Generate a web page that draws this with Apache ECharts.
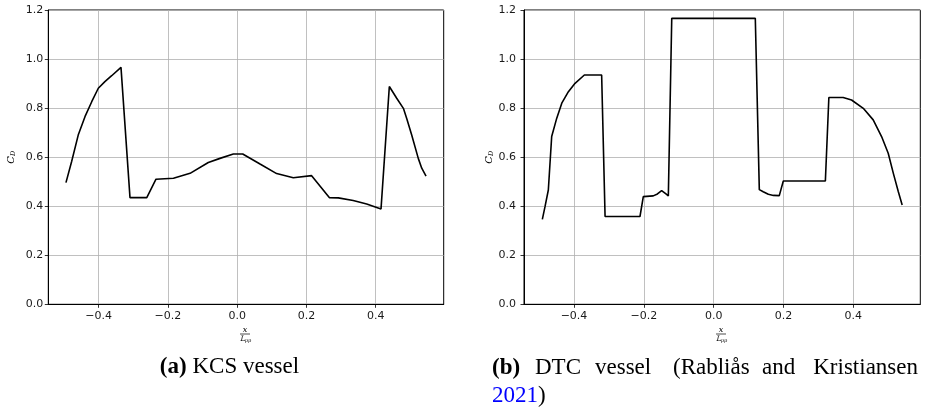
<!DOCTYPE html>
<html>
<head>
<meta charset="utf-8">
<script src="https://cdn.jsdelivr.net/npm/echarts@6/dist/echarts.min.js"></script>
<style>html,body{margin:0;padding:0;background:#fff}#c{width:927px;height:411px}</style>
</head>
<body>
<div id="c"></div>
<script>
// KCS vessel
const xKCS = [-0.4944,-0.478,-0.459,-0.4395,-0.420,-0.401,-0.382,-0.3624,-0.3355,-0.3095,-0.261,-0.2344,-0.184,-0.136,-0.0834,-0.0496,-0.011,0.016,0.066,0.114,0.162,0.215,0.266,0.292,0.335,0.374,0.4154,0.4394,0.4607,0.480,0.4896,0.504,0.523,0.533,0.5454];
const yKCS = [0.496,0.582,0.690,0.765,0.826,0.881,0.908,0.932,0.966,0.435,0.435,0.510,0.514,0.534,0.578,0.595,0.613,0.613,0.572,0.533,0.516,0.5246,0.435,0.434,0.423,0.409,0.389,0.888,0.840,0.799,0.758,0.690,0.595,0.555,0.523];
// DTC vessel
const xDTC = [-0.4907,-0.483,-0.4735,-0.4639,-0.4496,-0.435,-0.416,-0.397,-0.3703,-0.3208,-0.311,-0.211,-0.2015,-0.173,-0.161,-0.149,-0.1366,-0.1298,-0.120,0.1193,0.1308,0.142,0.1566,0.171,0.188,0.1995,0.320,0.330,0.371,0.395,0.4286,0.457,0.481,0.500,0.5147,0.529,0.540];
const yDTC = [0.3466,0.398,0.466,0.684,0.758,0.820,0.867,0.901,0.935,0.935,0.358,0.358,0.439,0.442,0.450,0.4635,0.450,0.442,1.166,1.166,0.4676,0.459,0.4487,0.444,0.443,0.503,0.503,0.843,0.843,0.833,0.799,0.752,0.684,0.616,0.534,0.459,0.405];
const xTicks = [-0.4,-0.2,0.0,0.2,0.4];
const yMin = 0, yMax = 1.2, yStep = 0.2;
const xRangeKCS = [-0.5454, 0.5964];
const xRangeDTC = [-0.5432, 0.5919];

const fmt = v => (v < -1e-9 ? '\u2212' + (-v).toFixed(1) : Math.abs(v).toFixed(1));
const tickFont = {fontFamily:'DejaVu Sans', fontSize:11, color:'#1a1a1a'};

function xAxis(idx, range){
  return {
    type:'value', gridIndex:idx, min:range[0], max:range[1],
    axisLine:{show:true, onZero:false, lineStyle:{color:'#000', width:1}},
    axisTick:{show:true, length:3.5, lineStyle:{color:'#000', width:0.8}, customValues:xTicks},
    axisLabel:Object.assign({margin:6, formatter:fmt, customValues:xTicks}, tickFont),
    splitLine:{show:true, lineStyle:{color:'#b0b0b0', width:0.8}}
  };
}
function yAxis(idx, margin){
  return {
    type:'value', gridIndex:idx, min:yMin, max:yMax, interval:yStep,
    axisLine:{show:true, onZero:false, lineStyle:{color:'#000', width:1}},
    axisTick:{show:true, length:3.5, lineStyle:{color:'#000', width:0.8}},
    axisLabel:Object.assign({margin:margin, formatter:v=>v.toFixed(1)}, tickFont),
    splitLine:{show:true, lineStyle:{color:'#b0b0b0', width:0.8}}
  };
}
function series(idx, xs, ys){
  return {
    type:'line', xAxisIndex:idx, yAxisIndex:idx, showSymbol:false, symbol:'none',
    lineStyle:{color:'#000', width:1.6}, data:xs.map((x,i)=>[x, ys[i]]), z:5
  };
}
function cdLabel(x, y){
  return {type:'group', x:x, y:y, rotation:Math.PI/2, children:[
    {type:'text', x:-3, y:0, style:{text:'C', fontFamily:'DejaVu Serif', fontStyle:'italic', fontSize:10, fill:'#000', align:'center', verticalAlign:'middle'}},
    {type:'text', x:3.5, y:2.5, style:{text:'D', fontFamily:'DejaVu Serif', fontStyle:'italic', fontSize:6.5, fill:'#000', align:'center', verticalAlign:'middle'}}
  ]};
}
function fracLabel(x, y){
  return {type:'group', x:x, y:y, children:[
    {type:'text', x:0, y:-4, style:{text:'x', fontFamily:'DejaVu Serif', fontStyle:'italic', fontSize:8, fill:'#000', align:'center', verticalAlign:'middle'}},
    {type:'line', shape:{x1:-5, y1:0, x2:5, y2:0}, style:{stroke:'#000', lineWidth:0.7}},
    {type:'text', x:-2, y:5, style:{text:'L', fontFamily:'DejaVu Serif', fontStyle:'italic', fontSize:7.5, fill:'#000', align:'center', verticalAlign:'middle'}},
    {type:'text', x:3, y:7, style:{text:'pp', fontFamily:'DejaVu Serif', fontStyle:'italic', fontSize:5, fill:'#000', align:'center', verticalAlign:'middle'}}
  ]};
}
const capFont = {fontFamily:'Liberation Serif', fontSize:23, fill:'#000', verticalAlign:'middle'};
function word(x, y, text, bold){
  return {type:'text', x:x, y:y, style:Object.assign({text:text, fontWeight:bold?'bold':'normal'}, capFont)};
}

const chart = echarts.init(document.getElementById('c'), null, {renderer:'canvas'});
chart.setOption({
  animation:false,
  backgroundColor:'#fff',
  grid:[
    {left:48.3, top:10, width:395.4, height:294.3, show:true, borderColor:'#000', borderWidth:1, containLabel:false},
    {left:524, top:10, width:396.3, height:294.3, show:true, borderColor:'#000', borderWidth:1, containLabel:false}
  ],
  xAxis:[xAxis(0, xRangeKCS), xAxis(1, xRangeDTC)],
  yAxis:[yAxis(0, 5), yAxis(1, 8)],
  series:[series(0, xKCS, yKCS), series(1, xDTC, yDTC)],
  graphic:[
    cdLabel(11, 157), cdLabel(489, 157),
    fracLabel(245, 334), fracLabel(721, 334),
    {type:'text', x:229.5, y:367, style:Object.assign({text:'{b|(a)} KCS vessel', align:'center', rich:{b:{fontWeight:'bold', fontFamily:'Liberation Serif', fontSize:23}}}, capFont)},
    word(492, 368, '(b)', true),
    word(535, 368, 'DTC'),
    word(595, 368, 'vessel'),
    word(673, 368, '(Rabli\u00e5s'),
    word(762, 368, 'and'),
    {type:'text', x:918, y:368, style:Object.assign({text:'Kristiansen', align:'right'}, capFont)},
    {type:'text', x:492, y:396, style:Object.assign({text:'{blue|2021})', rich:{blue:{fill:'#0000ff', color:'#0000ff', fontFamily:'Liberation Serif', fontSize:23}}}, capFont)}
  ]
});
</script>
</body>
</html>
